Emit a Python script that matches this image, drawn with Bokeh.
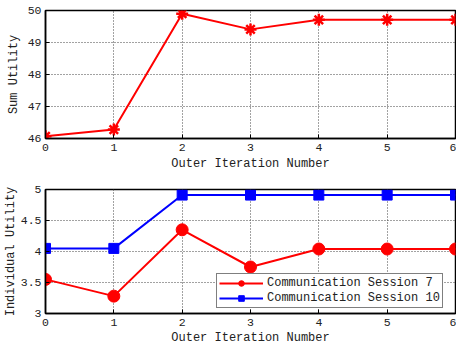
from bokeh.plotting import figure
from bokeh.layouts import column
from bokeh.models import FixedTicker, Legend, LegendItem, Range1d
from bokeh.embed import file_html
from bokeh.resources import INLINE

iterations = [0, 1, 2, 3, 4, 5, 6]
sum_utility = [46.07, 46.28, 49.90, 49.41, 49.71, 49.71, 49.71]
session7 = [3.55, 3.28, 4.35, 3.75, 4.04, 4.04, 4.04]
session10 = [4.05, 4.05, 4.91, 4.91, 4.91, 4.91, 4.91]

top_yticks = [46, 47, 48, 49, 50]
bottom_yticks = [3, 3.5, 4, 4.5, 5]
bottom_ytick_labels = ["3", "3.5", "4", "4.5", "5"]
x_label = "Outer Iteration Number"
top_y_label = "Sum Utility"
bottom_y_label = "Individual Utility"
legend_labels = ["Communication Session 7", "Communication Session 10"]

FONT = "Liberation Mono"
FS = "12px"
TICK_FS = "11.5px"
TXT = "#222222"


def style(p):
    p.outline_line_color = "black"
    p.outline_line_width = 1.5
    p.background_fill_color = "white"
    p.border_fill_color = "white"
    for ax in (p.xaxis[0], p.yaxis[0]):
        ax.axis_line_color = "black"
        ax.axis_line_width = 1.5
        ax.major_tick_in = 4
        ax.major_tick_out = 0
        ax.minor_tick_in = 0
        ax.minor_tick_out = 0
        ax.major_tick_line_color = "black"
        ax.major_label_text_font = FONT
        ax.major_label_text_font_size = TICK_FS
        ax.major_label_text_color = TXT
        ax.axis_label_text_font = FONT
        ax.axis_label_text_font_size = FS
        ax.axis_label_text_font_style = "normal"
        ax.axis_label_text_color = TXT
    p.xaxis.major_label_standoff = 5
    p.xaxis.axis_label_standoff = 3
    p.yaxis.major_label_standoff = 4
    p.yaxis.axis_label_standoff = 0
    p.xaxis.ticker = FixedTicker(ticks=iterations)
    for g in (p.xgrid[0], p.ygrid[0]):
        g.grid_line_color = "#444444"
        g.grid_line_dash = "1 2"
        g.grid_line_width = 1


p1 = figure(width=456, height=177, output_backend="svg", toolbar_location=None,
            x_range=Range1d(0, 6), y_range=Range1d(46, 50),
            min_border_left=45, min_border_right=1, min_border_top=10, min_border_bottom=39)
style(p1)
p1.yaxis.ticker = FixedTicker(ticks=top_yticks)
p1.yaxis.axis_label_standoff = 4
p1.xaxis.axis_label = x_label
p1.yaxis.axis_label = top_y_label
p1.line(iterations, sum_utility, line_color="red", line_width=2)
p1.scatter(iterations, sum_utility, marker="asterisk", size=12, line_color="red", line_width=2.5)

p2 = figure(width=456, height=170, output_backend="svg", toolbar_location=None,
            x_range=Range1d(0, 6), y_range=Range1d(3, 5),
            min_border_left=45, min_border_right=1, min_border_top=12, min_border_bottom=31)
style(p2)
p2.yaxis.ticker = FixedTicker(ticks=bottom_yticks)
p2.yaxis.major_label_overrides = {t: l for t, l in zip(bottom_yticks, bottom_ytick_labels)}
p2.xaxis.major_label_standoff = 5
p2.xaxis.axis_label_standoff = 2
p2.xaxis.axis_label = x_label
p2.yaxis.axis_label = bottom_y_label
l7 = p2.line(iterations, session7, line_color="red", line_width=2)
m7 = p2.scatter(iterations, session7, marker="circle", size=12, fill_color="red", line_color="red")
l10 = p2.line(iterations, session10, line_color="blue", line_width=2)
m10 = p2.scatter(iterations, session10, marker="square", size=10, fill_color="blue", line_color="blue")

legend = Legend(items=[LegendItem(label=legend_labels[0], renderers=[l7, m7]),
                       LegendItem(label=legend_labels[1], renderers=[l10, m10])],
                location=(171, 5))
legend.label_text_font = FONT
legend.label_text_font_size = FS
legend.label_text_color = TXT
legend.border_line_color = "black"
legend.border_line_width = 1.5
legend.background_fill_color = "white"
legend.background_fill_alpha = 1
legend.glyph_width = 44
legend.glyph_height = 14
legend.label_height = 14
legend.label_standoff = 4
legend.spacing = 1
legend.padding = 2
legend.margin = 0
legend.label_text_line_height = 1.0
p2.add_layout(legend)

layout = column(p1, p2, spacing=0)
open("out.html", "w").write(file_html(layout, INLINE))
